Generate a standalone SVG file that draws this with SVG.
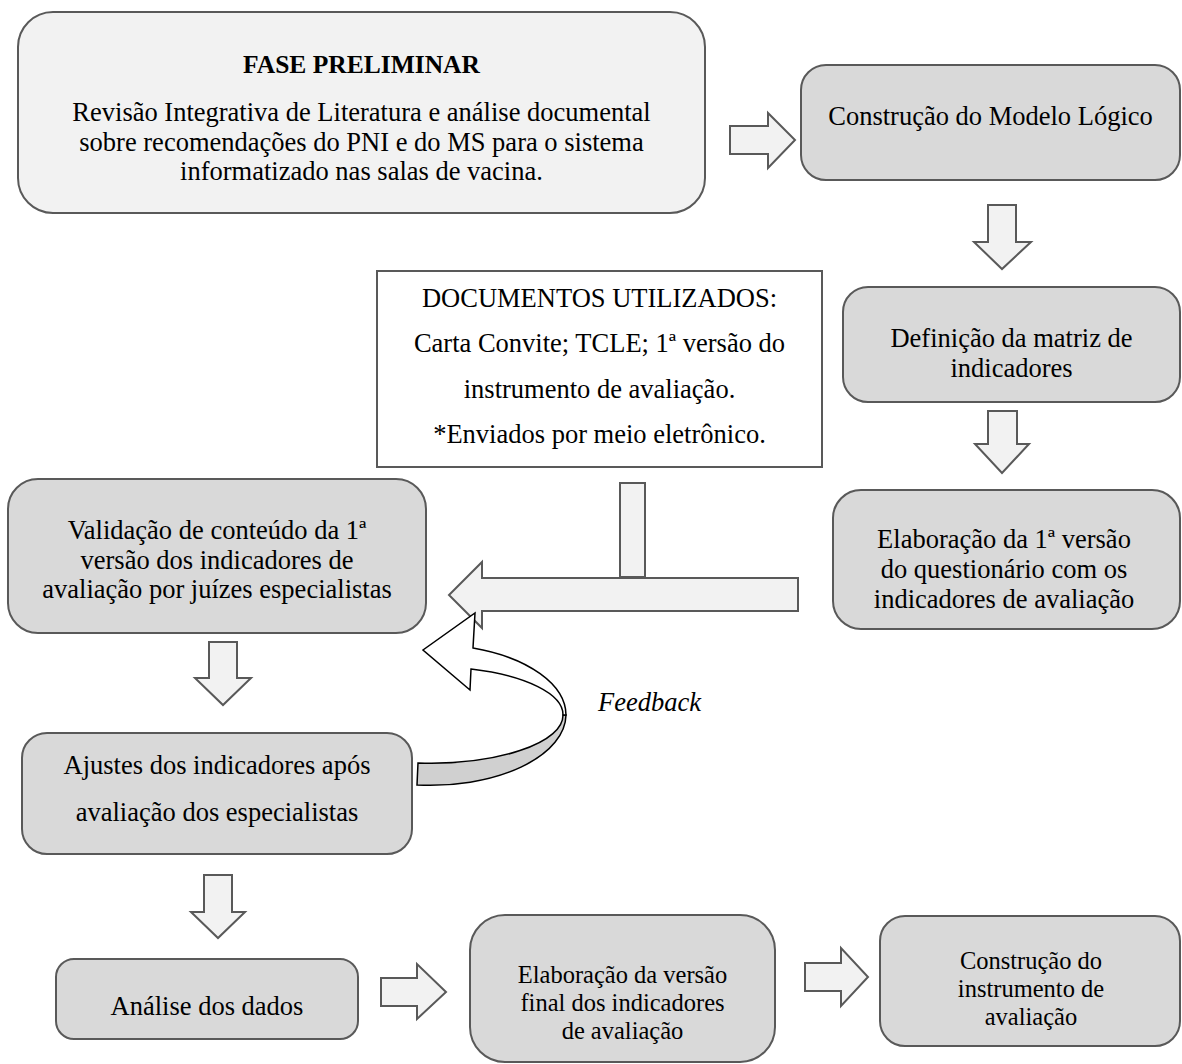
<svg xmlns="http://www.w3.org/2000/svg" width="1182" height="1064" viewBox="0 0 1182 1064">
<style>
.node{fill:#d9d9d9;stroke:#595959;stroke-width:2}
.light{fill:#f2f2f2;stroke:#595959;stroke-width:2}
.doc{fill:#ffffff;stroke:#595959;stroke-width:2}
.arr{fill:#f2f2f2;stroke:#595959;stroke-width:2;stroke-linejoin:miter}
text{font-family:"Liberation Serif","Times New Roman",serif;font-size:26.5px;fill:#000;text-anchor:middle}
.b{font-weight:bold;font-size:25.5px}
.it{font-style:italic;text-anchor:start}
.sm{font-size:24.5px}
</style>
<rect width="1182" height="1064" fill="#ffffff"/>
<g id="connectors">
  <polygon class="arr" points="730,126 768,126 768,113 795,140 768,168 768,154 730,154"/>
  <polygon class="arr" points="988,205 1016,205 1016,242 1031,242 1002,269 974,242 988,242"/>
  <polygon class="arr" points="988,411 1017,411 1017,444 1029,444 1002,473 975,444 988,444"/>
  <rect class="arr" x="620" y="483" width="25" height="94"/>
  <polygon class="arr" points="798,578 482,578 482,562 449,595 482,628 482,611 798,611"/>
  <polygon class="arr" points="209,642 237,642 237,678 251,678 223,705 195,678 209,678"/>
  <polygon class="arr" points="204,875 232,875 232,912 245,912 218,938 191,912 204,912"/>
  <polygon class="arr" points="381,978 417,978 417,964 446,992 417,1019 417,1006 381,1006"/>
  <polygon class="arr" points="805,963 841,963 841,948 868,977 841,1006 841,991 805,991"/>
  <g id="feedback-arrow" stroke="#000" stroke-width="1.5" stroke-linejoin="miter">
    <path d="M566,715 A136,71 0 0 1 417,785 L418,763 A133,48 0 0 0 563,715 Z" fill="#d0d0d0"/>
    <path d="M473,648 A136,71 0 0 1 566,715 L563,715 A133,48 0 0 0 471,669 L470,690 L423,650 L475,613 Z" fill="#ffffff"/>
  </g>
  <text class="it" x="598" y="711">Feedback</text>
</g>
<g id="n-fase">
  <rect class="light" x="18" y="12" width="687" height="201" rx="35"/>
  <text class="b" x="361.5" y="73">FASE PRELIMINAR</text>
  <text x="361.5" y="121">Revisão Integrativa de Literatura e análise documental</text>
  <text x="361.5" y="151">sobre recomendações do PNI e do MS para o sistema</text>
  <text x="361.5" y="180">informatizado nas salas de vacina.</text>
</g>
<g id="n-modelo">
  <rect class="node" x="801" y="65" width="379" height="115" rx="25"/>
  <text x="990.5" y="125">Construção do Modelo Lógico</text>
</g>
<g id="n-matriz">
  <rect class="node" x="843" y="287" width="337" height="115" rx="25"/>
  <text x="1011.5" y="347">Definição da matriz de</text>
  <text x="1011.5" y="377">indicadores</text>
</g>
<g id="n-elab1">
  <rect class="node" x="833" y="490" width="347" height="139" rx="28"/>
  <text x="1004" y="548">Elaboração da 1ª versão</text>
  <text x="1004" y="578">do questionário com os</text>
  <text x="1004" y="608">indicadores de avaliação</text>
</g>
<g id="n-docs">
  <rect class="doc" x="377" y="271" width="445" height="196"/>
  <text x="599.5" y="307">DOCUMENTOS UTILIZADOS:</text>
  <text x="599.5" y="352">Carta Convite; TCLE; 1ª versão do</text>
  <text x="599.5" y="398">instrumento de avaliação.</text>
  <text x="599.5" y="443">*Enviados por meio eletrônico.</text>
</g>
<g id="n-validacao">
  <rect class="node" x="8" y="479" width="418" height="154" rx="30"/>
  <text x="217" y="539">Validação de conteúdo da 1ª</text>
  <text x="217" y="569">versão dos indicadores de</text>
  <text x="217" y="598">avaliação por juízes especialistas</text>
</g>
<g id="n-ajustes">
  <rect class="node" x="22" y="733" width="390" height="121" rx="25"/>
  <text x="217" y="774">Ajustes dos indicadores após</text>
  <text x="217" y="821">avaliação dos especialistas</text>
</g>
<g id="n-analise">
  <rect class="node" x="56" y="959" width="302" height="80" rx="18"/>
  <text x="207" y="1015">Análise dos dados</text>
</g>
<g id="n-final">
  <rect class="node" x="470" y="915" width="305" height="147" rx="35"/>
  <text class="sm" x="622.5" y="983">Elaboração da versão</text>
  <text class="sm" x="622.5" y="1011">final dos indicadores</text>
  <text class="sm" x="622.5" y="1039">de avaliação</text>
</g>
<g id="n-instrumento">
  <rect class="node" x="880" y="916" width="300" height="130" rx="25"/>
  <text class="sm" x="1031" y="969">Construção do</text>
  <text class="sm" x="1031" y="997">instrumento de</text>
  <text class="sm" x="1031" y="1025">avaliação</text>
</g>
</svg>
